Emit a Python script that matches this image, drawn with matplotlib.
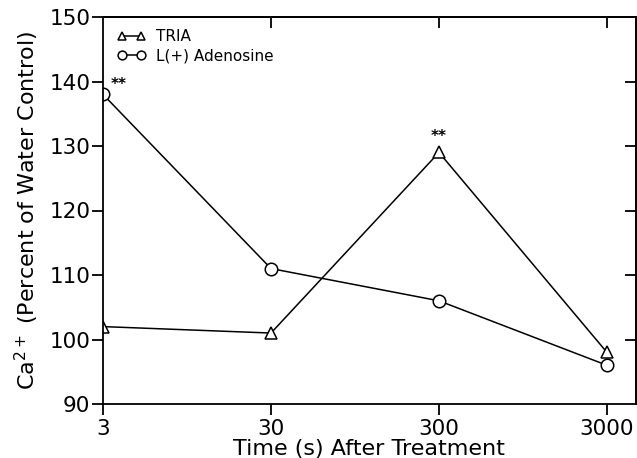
import matplotlib
matplotlib.use("Agg")
import matplotlib.pyplot as plt

times = [3, 30, 300, 3000]
tria = [102, 101, 129, 98]
adenosine = [138, 111, 106, 96]
xtick_labels = ["3", "30", "300", "3000"]
yticks = [90, 100, 110, 120, 130, 140, 150]

plt.rcParams['font.family'] = ['DejaVu Sans']

fig = plt.figure(figsize=(6.37, 4.58), dpi=100)
ax = fig.add_axes([103/637, 1-404/458, 1-103/637-0.002, (404-17)/458])

ax.plot(times, tria, color='black', lw=1.1, marker='^', ms=8, mfc='white', mec='black', mew=1.1, label='TRIA')
ax.plot(times, adenosine, color='black', lw=1.1, marker='o', ms=9, mfc='white', mec='black', mew=1.1, label='L(+) Adenosine')

ax.set_xscale('log')
ax.set_xlim(3, 4450)
ax.set_ylim(90, 150)
ax.set_xticks(times)
ax.set_xticklabels(xtick_labels)
ax.minorticks_off()
ax.set_yticks(yticks)
ax.tick_params(axis='both', labelsize=15.5, length=8, width=1.3, direction='out')
ax.tick_params(axis='x', pad=3)
ax.tick_params(axis='y', pad=1)

secx = ax.secondary_xaxis('top')
secx.set_xscale('log')
secx.set_xticks(times[1:])
secx.minorticks_off()
secx.tick_params(direction='in', length=8, width=1.3, labeltop=False)
secy = ax.secondary_yaxis('right')
secy.set_yticks(yticks[1:-1])
secy.tick_params(direction='in', length=8, width=1.3, labelright=False)

for s in list(ax.spines.values()) + [secx.spines['top'], secy.spines['right']]:
    s.set_linewidth(1.3)

ax.text(3.35, 139.6, '**', fontsize=11, fontweight='bold', ha='left', va='center')
ax.text(300, 130.3, '**', fontsize=11, fontweight='bold', ha='center', va='bottom')

ax.set_xlabel('Time (s) After Treatment', fontsize=16, labelpad=0)
ax.set_ylabel('Ca$^{2+}$ (Percent of Water Control)', fontsize=16, labelpad=6)

leg = ax.legend(loc='upper left', frameon=False, fontsize=11, handlelength=1.8, numpoints=2,
                markerscale=0.7, borderaxespad=0.4, labelspacing=0.25, handletextpad=0.7,
                bbox_to_anchor=(0.005, 1.0))

fig.savefig('out.png', dpi=100)
